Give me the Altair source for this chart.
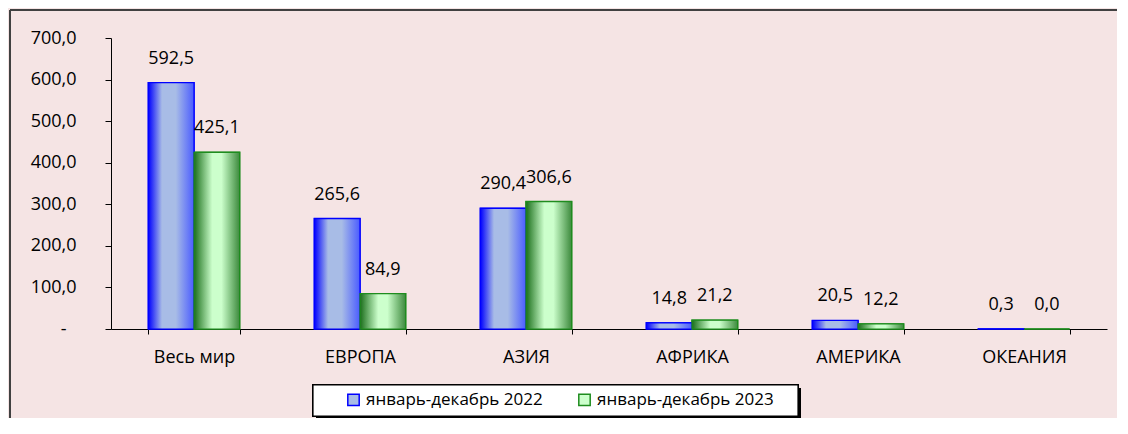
import altair as alt
import pandas as pd

regions = ["Весь мир", "ЕВРОПА", "АЗИЯ", "АФРИКА", "АМЕРИКА", "ОКЕАНИЯ"]
series_names = ["январь-декабрь 2022", "январь-декабрь 2023"]
values_2022 = [592.5, 265.6, 290.4, 14.8, 20.5, 0.3]
values_2023 = [425.1, 84.9, 306.6, 21.2, 12.2, 0.0]
y_ticks = [0, 100, 200, 300, 400, 500, 600, 700]

rows = []
for r, a, b in zip(regions, values_2022, values_2023):
    rows.append({"region": r, "series": series_names[0], "value": a})
    rows.append({"region": r, "series": series_names[1], "value": b})
df = pd.DataFrame(rows)

FONT = "Open Sans"
BG = "#F5E4E4"

grad_blue = {
    "gradient": "linear", "x1": 0, "y1": 0, "x2": 1, "y2": 0,
    "stops": [
        {"offset": 0, "color": "#0000FF"},
        {"offset": 0.3, "color": "#A8BCE6"},
        {"offset": 0.6, "color": "#A8BCE6"},
        {"offset": 1, "color": "#4A5CFF"},
    ],
}
grad_green = {
    "gradient": "linear", "x1": 0, "y1": 0, "x2": 1, "y2": 0,
    "stops": [
        {"offset": 0, "color": "#1A6E1A"},
        {"offset": 0.4, "color": "#CCFFCC"},
        {"offset": 0.6, "color": "#CCFFCC"},
        {"offset": 1, "color": "#3D8A3D"},
    ],
}

x_enc = alt.X(
    "region:N",
    sort=regions,
    title=None,
    scale=alt.Scale(paddingInner=0.45, paddingOuter=0.225),
    axis=alt.Axis(
        labelAngle=0, tickBand="extent", tickSize=5, labelPadding=14,
        domainColor="black", tickColor="black", labelColor="black",
        labelFont=FONT, labelFontSize=18, grid=False,
    ),
)
xo_enc = alt.XOffset(
    "series:N", sort=series_names,
    scale=alt.Scale(paddingInner=0, paddingOuter=0),
)
y_enc = alt.Y(
    "value:Q",
    title=None,
    scale=alt.Scale(domain=[0, 700], nice=False),
    axis=alt.Axis(
        values=y_ticks, tickSize=6, grid=False,
        labelPadding={"condition": {"test": "datum.value == 0", "value": 39}, "value": 29},
        domainColor="black", tickColor="black", labelColor="black",
        labelFont=FONT, labelFontSize=18,
        labelExpr="datum.value == 0 ? '-' : replace(format(datum.value, '.1f'), '.', ',')",
    ),
)

base = alt.Chart(df)

legend_kw = dict(
    title=None, orient="none", direction="horizontal",
    legendX=234, legendY=353, padding=0,
    symbolType="square", symbolSize=130, symbolStrokeWidth=1.5,
    labelFont=FONT, labelFontSize=17, labelColor="black", labelLimit=0,
    labelOffset=4, columnPadding=32,
)

box_shadow = base.mark_rect(color="black").encode(
    x=alt.value(205), x2=alt.value(690), y=alt.value(350), y2=alt.value(380)
)
box = base.mark_rect(color="white", stroke="black", strokeWidth=1.2).encode(
    x=alt.value(202), x2=alt.value(687), y=alt.value(347), y2=alt.value(378)
)
frame_top = base.mark_rule(color="#404040", strokeWidth=2).encode(
    x=alt.value(-101), x2=alt.value(1200), y=alt.value(-28)
)
frame_left = base.mark_rule(color="#404040", strokeWidth=2).encode(
    x=alt.value(-101), y=alt.value(-28), y2=alt.value(600)
)

legend_bars = base.mark_bar(strokeWidth=1.5).encode(
    x=x_enc, xOffset=xo_enc, y=y_enc,
    fill=alt.Fill("series:N", sort=series_names,
                  scale=alt.Scale(domain=series_names, range=["#A8BCE6", "#CCFFCC"]),
                  legend=alt.Legend(**legend_kw)),
    stroke=alt.Stroke("series:N", sort=series_names,
                      scale=alt.Scale(domain=series_names, range=["#0000FF", "#1E8C1E"]),
                      legend=alt.Legend(**legend_kw)),
)

bars_2022 = base.transform_filter(
    alt.datum.series == series_names[0]
).mark_bar(color=grad_blue, stroke="#0000FF", strokeWidth=1.2).encode(
    x=x_enc, xOffset=xo_enc, y=y_enc
)
bars_2023 = base.transform_filter(
    alt.datum.series == series_names[1]
).mark_bar(color=grad_green, stroke="#1E8C1E", strokeWidth=1.2).encode(
    x=x_enc, xOffset=xo_enc, y=y_enc
)

labels = base.transform_calculate(
    label="replace(format(datum.value, '.1f'), '.', ',')"
).mark_text(dy=-24, font=FONT, fontSize=18, color="black").encode(
    x=x_enc, xOffset=xo_enc, y=y_enc, text="label:N"
)

chart = alt.layer(
    frame_top, frame_left, box_shadow, box, legend_bars, bars_2022, bars_2023, labels
).properties(
    width=996, height=291,
    autosize=alt.AutoSizeParams(type="none"),
    padding={"left": 103, "top": 30, "right": 10, "bottom": 89},
    background=BG,
).configure_view(stroke=None)

chart.save("out.html", embed_options={"renderer": "svg", "actions": False})
